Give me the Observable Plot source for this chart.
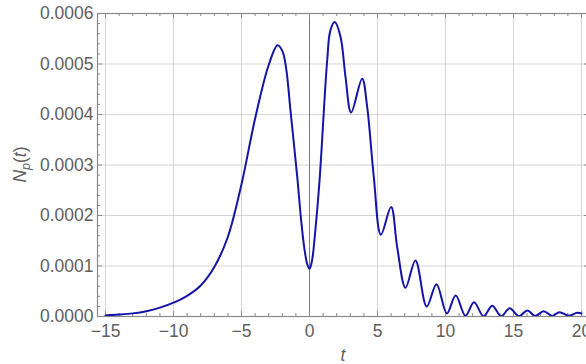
<!DOCTYPE html>
<html><head><meta charset="utf-8">
<script src="https://cdn.jsdelivr.net/npm/d3@7"></script>
<script src="https://cdn.jsdelivr.net/npm/@observablehq/plot@0.6"></script>
<style>
body{margin:0;background:#fff;overflow:hidden}
#chart{position:relative;width:586px;height:364px}
</style>
</head><body><div id="chart"></div>
<script>
// data
const tValues = [-15, -14, -13, -12, -11, -10, -9, -8, -7, -6, -5, -4, -3, -2.35, -2.0, -1.72, -1.4, -0.9, -0.62, -0.38, -0.16, 0, 0.18, 0.42, 0.74, 1.3, 1.54, 1.86, 2.28, 2.65, 3.06, 3.87, 4.24, 4.73, 5.25, 6.0, 6.45, 7.06, 7.79, 8.62, 9.34, 10.1, 10.75, 11.47, 12.1, 12.8, 13.44, 14.1, 14.72, 15.4, 16.02, 16.6, 17.22, 17.85, 18.38, 19.07, 19.68, 20];
const npValues = [2.2e-6, 3.8e-6, 6.2e-6, 1.05e-5, 1.75e-5, 2.75e-5, 4.1e-5, 6.14e-5, 9.8e-5, 1.58e-4, 2.62e-4, 3.92e-4, 4.98e-4, 5.37e-4, 5.26e-4, 4.92e-4, 4.08e-4, 2.76e-4, 1.92e-4, 1.35e-4, 1.03e-4, 9.45e-5, 1.1e-4, 1.68e-4, 2.7e-4, 5.07e-4, 5.67e-4, 5.83e-4, 5.54e-4, 4.74e-4, 4.04e-4, 4.71e-4, 4.15e-4, 2.76e-4, 1.62e-4, 2.17e-4, 1.37e-4, 5.7e-5, 1.11e-4, 1.98e-5, 6.4e-5, 6e-6, 4.16e-5, 1.4e-6, 2.84e-5, 5e-7, 2.15e-5, 5e-7, 1.65e-5, 8e-7, 1.2e-5, 1e-6, 1.05e-5, 1.2e-6, 8.5e-6, 1.5e-6, 7.3e-6, 6e-6];

const xMajorTicks = [-15, -10, -5, 0, 5, 10, 15, 20];
const xTickLabels = ["\u221215", "\u221210", "\u22125", "0", "5", "10", "15", "20"];
const xMinorTicks = d3.range(-15, 21).filter(d => d % 5 !== 0);
const yMajorTicks = [0, 0.0001, 0.0002, 0.0003, 0.0004, 0.0005, 0.0006];
const yTickLabels = ["0.0000", "0.0001", "0.0002", "0.0003", "0.0004", "0.0005", "0.0006"];
const yMinorTicks = d3.range(0, 31).filter(i => i % 5 !== 0).map(i => i * 2e-5);
const xLabel = "t";

const data = tValues.map((t, i) => ({t, n: npValues[i]}));

const W = 586, H = 364, mL = 97, mR = -3, mT = 13, mB = 48;
const fw = W - mL - mR, fh = H - mT - mB;
const frameColor = "#8a8a8a", gridColor = "#d4d4d4", textColor = "#606060";
const font = "Liberation Sans, Arial, sans-serif";
const fs = 17.5;

const chart = Plot.plot({
  width: W, height: H,
  marginLeft: mL, marginRight: mR, marginTop: mT, marginBottom: mB,
  x: {domain: [-15.59, 20.59], axis: null},
  y: {domain: [0, 0.0006], axis: null},
  marks: [
    Plot.ruleX(xMajorTicks, {x: d => d, stroke: gridColor, strokeWidth: 1}),
    Plot.ruleY(yMajorTicks, {y: d => d, stroke: gridColor, strokeWidth: 1}),
    Plot.ruleX([0], {stroke: "#7a7a7a", strokeWidth: 1}),
    // frame ticks (inward)
    Plot.ruleX(xMajorTicks, {x: d => d, insetTop: fh - 5, stroke: frameColor}),
    Plot.ruleX(xMajorTicks, {x: d => d, insetBottom: fh - 5, stroke: frameColor}),
    Plot.ruleX(xMinorTicks, {x: d => d, insetTop: fh - 3, stroke: frameColor}),
    Plot.ruleX(xMinorTicks, {x: d => d, insetBottom: fh - 3, stroke: frameColor}),
    Plot.ruleY(yMajorTicks, {y: d => d, insetRight: fw - 5, stroke: frameColor}),
    Plot.ruleY(yMajorTicks, {y: d => d, insetLeft: fw - 5, stroke: frameColor}),
    Plot.ruleY(yMinorTicks, {y: d => d, insetRight: fw - 3, stroke: frameColor}),
    Plot.ruleY(yMinorTicks, {y: d => d, insetLeft: fw - 3, stroke: frameColor}),
    Plot.frame({stroke: frameColor, strokeWidth: 1.2}),
    // tick labels
    Plot.text(xMajorTicks, {x: d => d, frameAnchor: "bottom", dy: 15, text: (d, i) => xTickLabels[i],
      fill: textColor, fontSize: fs, fontFamily: font, textAnchor: "middle", lineAnchor: "middle"}),
    Plot.text(yMajorTicks, {y: d => d, frameAnchor: "left", dx: -4, text: (d, i) => yTickLabels[i],
      fill: textColor, fontSize: fs, fontFamily: font, textAnchor: "end", lineAnchor: "middle"}),
    // curve
    Plot.line(data, {x: "t", y: "n", stroke: "#1414a8", strokeWidth: 2, curve: "catmull-rom", clip: true})
  ]
});

const svg = d3.select(chart);
// x label
svg.append("text")
  .attr("x", mL + (W - mR - mL) / 2).attr("y", 361)
  .attr("text-anchor", "middle")
  .attr("font-family", font).attr("font-size", fs).attr("font-style", "italic")
  .attr("fill", textColor).text(xLabel);
// y label N_p(t)
const yl = svg.append("text")
  .attr("transform", `translate(26,${mT + fh / 2}) rotate(-90)`)
  .attr("text-anchor", "middle")
  .attr("font-family", font).attr("font-size", fs).attr("fill", textColor);
yl.append("tspan").attr("font-style", "italic").text("N");
yl.append("tspan").attr("font-style", "italic").attr("font-size", 12.5).attr("dy", 4).text("p");
yl.append("tspan").attr("dy", -4).text("(");
yl.append("tspan").attr("font-style", "italic").text("t");
yl.append("tspan").text(")");

document.getElementById("chart").appendChild(chart);
</script>
</body></html>
